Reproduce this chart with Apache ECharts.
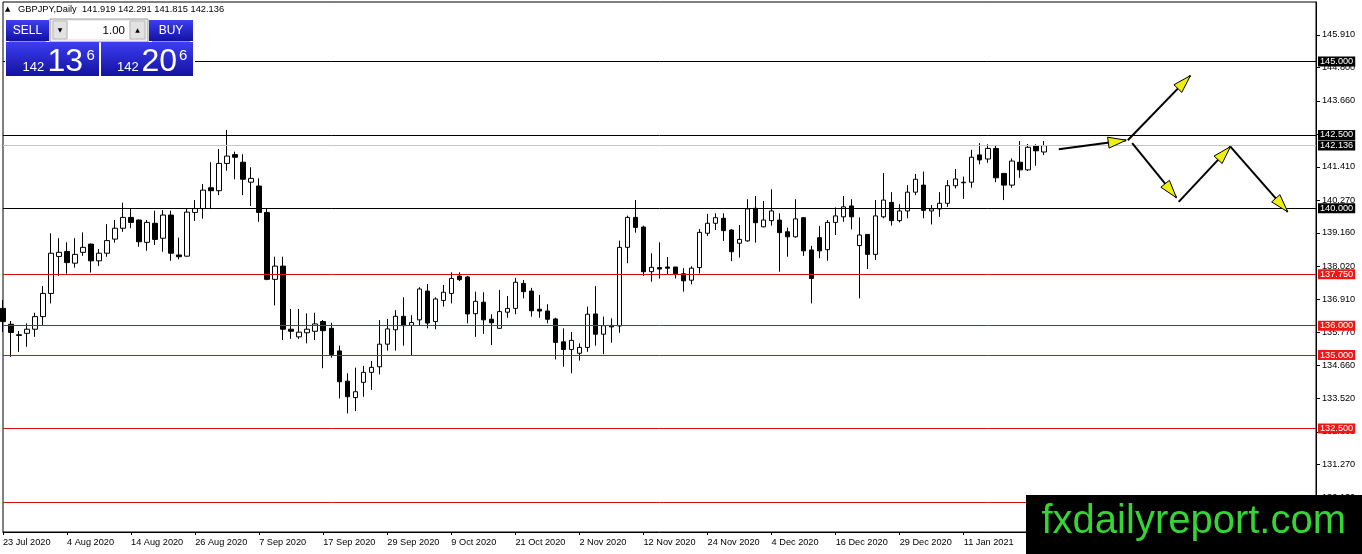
<!DOCTYPE html>
<html><head><meta charset="utf-8">
<script src="https://cdn.jsdelivr.net/npm/echarts@6/dist/echarts.min.js"></script>
<style>html,body{margin:0;padding:0;background:#fff}#c{width:1362px;height:554px}</style>
</head><body><div id="c"></div>
<script>
const dates = [
'23 Jul 2020','24 Jul 2020','27 Jul 2020','28 Jul 2020','29 Jul 2020','30 Jul 2020','31 Jul 2020',
'3 Aug 2020','4 Aug 2020','5 Aug 2020','6 Aug 2020','7 Aug 2020','10 Aug 2020','11 Aug 2020','12 Aug 2020','13 Aug 2020','14 Aug 2020','17 Aug 2020','18 Aug 2020','19 Aug 2020','20 Aug 2020','21 Aug 2020','24 Aug 2020','25 Aug 2020','26 Aug 2020','27 Aug 2020','28 Aug 2020','31 Aug 2020',
'1 Sep 2020','2 Sep 2020','3 Sep 2020','4 Sep 2020','7 Sep 2020','8 Sep 2020','9 Sep 2020','10 Sep 2020','11 Sep 2020','14 Sep 2020','15 Sep 2020','16 Sep 2020','17 Sep 2020','18 Sep 2020','21 Sep 2020','22 Sep 2020','23 Sep 2020','24 Sep 2020','25 Sep 2020','28 Sep 2020','29 Sep 2020','30 Sep 2020',
'1 Oct 2020','2 Oct 2020','5 Oct 2020','6 Oct 2020','7 Oct 2020','8 Oct 2020','9 Oct 2020','12 Oct 2020','13 Oct 2020','14 Oct 2020','15 Oct 2020','16 Oct 2020','19 Oct 2020','20 Oct 2020','21 Oct 2020','22 Oct 2020','23 Oct 2020','26 Oct 2020','27 Oct 2020','28 Oct 2020','29 Oct 2020','30 Oct 2020',
'2 Nov 2020','3 Nov 2020','4 Nov 2020','5 Nov 2020','6 Nov 2020','9 Nov 2020','10 Nov 2020','11 Nov 2020','12 Nov 2020','13 Nov 2020','16 Nov 2020','17 Nov 2020','18 Nov 2020','19 Nov 2020','20 Nov 2020','23 Nov 2020','24 Nov 2020','25 Nov 2020','26 Nov 2020','27 Nov 2020','30 Nov 2020',
'1 Dec 2020','2 Dec 2020','3 Dec 2020','4 Dec 2020','7 Dec 2020','8 Dec 2020','9 Dec 2020','10 Dec 2020','11 Dec 2020','14 Dec 2020','15 Dec 2020','16 Dec 2020','17 Dec 2020','18 Dec 2020','21 Dec 2020','22 Dec 2020','23 Dec 2020','24 Dec 2020','28 Dec 2020','29 Dec 2020','30 Dec 2020','31 Dec 2020',
'4 Jan 2021','5 Jan 2021','6 Jan 2021','7 Jan 2021','8 Jan 2021','11 Jan 2021','12 Jan 2021','13 Jan 2021','14 Jan 2021','15 Jan 2021','18 Jan 2021','19 Jan 2021','20 Jan 2021','21 Jan 2021','22 Jan 2021','25 Jan 2021'
];
const opens = [136.59,136.05,135.69,135.74,135.88,136.31,137.10,138.36,138.53,138.13,138.50,138.78,138.21,138.47,138.95,139.32,139.69,139.60,138.84,139.49,138.98,139.77,138.41,138.37,139.86,139.99,140.70,140.60,141.53,141.83,141.57,140.89,140.76,139.86,137.58,138.03,135.88,135.62,135.76,135.81,136.14,135.91,135.14,134.11,133.55,134.07,134.41,134.60,135.37,135.86,136.32,136.01,136.20,137.18,136.14,136.86,137.10,137.69,137.66,136.41,136.80,136.22,135.91,136.46,136.59,137.44,137.18,136.56,136.50,136.23,135.45,135.19,135.06,135.26,136.40,135.71,136.01,135.99,138.67,139.69,139.36,137.84,137.98,138.00,138.00,137.77,137.55,137.98,139.15,139.49,139.66,139.26,138.81,138.89,140.00,139.37,139.58,139.60,139.20,139.03,139.68,138.58,139.00,138.59,139.52,139.71,140.08,138.73,139.11,138.43,139.71,140.20,139.58,139.91,140.55,140.79,139.91,139.98,140.17,140.77,140.87,140.89,141.82,141.68,142.04,141.19,140.79,141.57,141.31,142.13,141.919];
const highs = [136.88,136.16,135.82,136.08,136.44,137.35,139.15,138.98,138.84,138.98,139.18,138.80,138.61,139.46,139.60,140.19,140.00,139.62,139.60,139.92,139.94,139.92,139.00,140.00,140.28,140.83,141.57,142.02,142.67,141.93,141.84,141.40,141.02,139.98,138.35,138.35,136.57,136.57,136.42,136.44,136.19,136.10,135.32,134.38,134.57,134.63,134.80,136.19,136.23,136.53,136.97,136.36,137.31,137.42,136.97,137.39,137.82,137.82,137.70,137.16,137.14,136.39,137.22,137.01,137.63,137.56,137.29,137.05,136.73,136.27,135.91,135.79,135.40,136.65,137.35,136.31,136.25,138.90,139.75,140.28,139.41,138.47,138.84,138.34,138.00,137.96,138.03,139.29,139.81,139.83,139.83,139.29,139.43,140.31,140.42,140.25,140.65,139.83,139.34,140.31,139.70,138.72,139.40,139.60,140.03,140.42,140.31,139.69,139.11,140.28,141.20,140.55,140.14,140.79,141.17,141.25,140.11,140.55,140.96,141.34,141.08,141.99,142.22,142.18,142.13,141.19,141.70,142.29,142.19,142.18,142.291];
const lows = [135.78,134.94,135.11,135.28,135.62,136.02,136.76,137.70,137.77,137.98,138.38,137.81,138.04,138.35,138.83,139.20,139.32,138.69,138.55,138.75,138.52,138.21,138.26,138.35,139.57,139.65,139.97,140.45,141.28,140.99,140.45,140.08,139.54,137.55,136.69,135.51,135.55,135.55,135.40,135.51,134.55,134.91,133.52,133.01,133.09,133.58,133.81,134.34,135.15,135.15,135.32,135.00,136.00,135.91,135.88,136.65,136.76,137.52,136.08,135.62,135.72,135.34,135.89,136.27,136.39,136.93,136.31,136.27,136.08,134.85,134.60,134.38,134.81,135.11,135.32,135.03,135.42,135.76,138.13,139.17,137.70,137.50,137.61,137.73,137.61,137.16,137.41,137.78,139.06,139.26,138.89,138.20,138.32,138.86,138.83,139.35,139.41,137.84,138.35,139.00,138.38,136.76,138.30,138.21,139.09,139.54,139.28,136.93,137.93,138.24,139.66,139.41,139.52,139.66,140.45,139.66,139.45,139.71,140.05,140.68,140.32,140.70,141.50,141.55,140.89,140.28,140.70,141.04,141.27,141.45,141.815];
const closes = [136.14,135.77,135.67,135.88,136.31,137.10,138.47,138.50,138.15,138.43,138.67,138.21,138.47,138.90,139.32,139.69,139.52,138.86,139.52,138.94,139.77,138.47,138.35,139.87,139.99,140.62,140.60,141.53,141.78,141.74,140.99,141.02,139.86,137.58,138.03,135.88,135.81,135.78,135.88,136.06,135.83,135.02,134.09,133.58,133.75,134.41,134.58,135.37,135.89,136.32,136.00,136.11,137.25,136.09,136.91,137.14,137.61,137.57,136.40,136.83,136.20,136.10,136.48,136.59,137.48,137.16,136.51,136.50,136.22,135.43,135.19,135.50,135.26,136.39,135.71,136.00,135.96,138.67,139.69,139.35,137.84,137.99,137.93,137.96,137.77,137.53,137.96,139.18,139.49,139.68,139.24,138.52,138.94,139.98,139.51,139.60,139.91,139.17,139.03,139.64,138.55,137.61,138.55,139.52,139.74,140.05,139.71,139.09,138.43,139.74,140.28,139.58,139.91,140.55,140.99,139.93,139.98,140.17,140.77,141.00,140.89,141.74,141.65,142.04,141.04,140.79,141.61,141.31,142.08,141.96,142.136];
const priceTicks = [145.91,144.80,143.66,142.52,141.41,140.27,139.16,138.02,136.91,135.77,134.66,133.52,132.38,131.27,130.13];
const levelsBlack = [145.0, 142.5, 140.0];
const levelsRed = [137.75, 136.0, 135.0, 132.5, 130.0];
const bidLevel = 142.136;
const arrowFrom = [[131.87,142.01],[140.49,142.32],[141.04,142.22],[146.85,140.22],[153.31,142.10]];
const arrowTo   = [[140.29,142.32],[148.31,144.52],[146.57,140.36],[153.31,142.10],[160.46,139.88]];
const headerText = 'GBPJPY,Daily  141.919 142.291 141.815 142.136';
const slotCount = 165;

const FONT = 'Liberation Sans';
const categories = dates.slice();
for (let i = dates.length; i < slotCount; i++) categories.push('pad' + i);
const candleData = dates.map((d, i) => [opens[i], closes[i], lows[i], highs[i]]);
const arrowData = arrowFrom.map((f, i) => [f[0], f[1], arrowTo[i][0], arrowTo[i][1]]);

const blueGrad = new echarts.graphic.LinearGradient(0, 0, 0, 1, [
  {offset: 0, color: '#3d3df2'}, {offset: 1, color: '#1212a0'}]);

function levelItem(v, lineColor, boxColor) {
  return {yAxis: v, lineStyle: {color: lineColor, width: 1, type: 'solid'},
    label: {backgroundColor: boxColor, formatter: v.toFixed(3)}};
}

const chart = echarts.init(document.getElementById('c'), null, {renderer: 'canvas'});
chart.setOption({
  animation: false,
  backgroundColor: '#fff',
  grid: {left: 2, top: 2, right: 46, bottom: 22, show: true, borderColor: '#000', borderWidth: 1, backgroundColor: '#fff'},
  xAxis: [{
    type: 'category', data: categories, boundaryGap: false,
    axisLine: {show: true, onZero: false, lineStyle: {color: '#000', width: 1}},
    axisTick: {show: true, length: 3, lineStyle: {color: '#000'},
      interval: (i) => i % 8 === 0 && i < dates.length},
    axisLabel: {show: true, interval: (i) => i % 8 === 0 && i < dates.length,
      align: 'left', margin: 6, color: '#000', fontSize: 9.2, fontFamily: FONT},
    splitLine: {show: false}
  }, {
    type: 'value', min: 0, max: slotCount - 1, show: false,
    axisLine: {onZero: false}
  }],
  yAxis: {
    type: 'value', position: 'right', min: 128.97, max: 147.03, scale: true,
    axisLine: {show: true, onZero: false, lineStyle: {color: '#000', width: 1}},
    axisTick: {show: true, length: 4, customValues: priceTicks, lineStyle: {color: '#000'}},
    axisLabel: {show: true, customValues: priceTicks, margin: 6, color: '#000', fontSize: 9.2,
      fontFamily: FONT, formatter: (v) => v.toFixed(3)},
    splitLine: {show: false}
  },
  series: [{
    type: 'candlestick', xAxisIndex: 0, data: candleData, barWidth: 5, clip: true,
    itemStyle: {color: '#fff', color0: '#000', borderColor: '#000', borderColor0: '#000', borderWidth: 1},
    markLine: {
      symbol: 'none', silent: true, animation: false,
      label: {show: true, position: 'end', distance: 2, color: '#fff', fontSize: 9.2, fontFamily: FONT,
        padding: [1, 2, 0, 2]},
      data: [
        ...levelsBlack.map(v => levelItem(v, '#000', '#000')),
        levelItem(bidLevel, '#c4c4c4', '#000'),
        ...levelsRed.map(v => levelItem(v, '#d41010', '#f01616'))
      ]
    }
  }, {
    type: 'custom', xAxisIndex: 1, yAxisIndex: 0, data: arrowData, z: 5,
    encode: {x: [0, 2], y: [1, 3]},
    renderItem: function (params, api) {
      const p1 = api.coord([api.value(0), api.value(1)]);
      const p2 = api.coord([api.value(2), api.value(3)]);
      const dx = p2[0] - p1[0], dy = p2[1] - p1[1];
      const len = Math.hypot(dx, dy) || 1;
      const ux = dx / len, uy = dy / len, nx = -uy, ny = ux;
      const L = 18, W = 5.5;
      const bx = p2[0] - ux * L, by = p2[1] - uy * L;
      return {type: 'group', children: [
        {type: 'line', shape: {x1: p1[0], y1: p1[1], x2: p2[0], y2: p2[1]}, style: {stroke: '#000', lineWidth: 2}},
        {type: 'polygon', shape: {points: [[p2[0], p2[1]], [bx + nx * W, by + ny * W], [bx - nx * W, by - ny * W]]},
          style: {fill: '#eeee10', stroke: '#000', lineWidth: 1}}
      ]};
    }
  }],
  graphic: [
    {type: 'text', z: 100, left: 5, top: 6, style: {text: '▲', fontSize: 7, fontFamily: 'DejaVu Sans', fill: '#000'}},
    {type: 'text', z: 100, left: 18, top: 5, style: {text: headerText, fontSize: 9.3, fontFamily: FONT, fill: '#000'}},
    {type: 'rect', z: 99, shape: {x: 5, y: 18, width: 190, height: 60}, style: {fill: '#fff'}},
    {type: 'rect', z: 100, shape: {x: 6, y: 20, width: 43, height: 21}, style: {fill: blueGrad}},
    {type: 'text', z: 101, x: 27.5, y: 31, style: {text: 'SELL', fontSize: 12, fontFamily: FONT, fill: '#fff', align: 'center', verticalAlign: 'middle'}},
    {type: 'rect', z: 100, shape: {x: 50, y: 19, width: 98, height: 23}, style: {fill: '#ececec', stroke: '#9a9a9a', lineWidth: 1}},
    {type: 'rect', z: 101, shape: {x: 53, y: 21, width: 14, height: 18}, style: {fill: '#e2e2e2', stroke: '#b8b8b8', lineWidth: 1}},
    {type: 'text', z: 102, x: 60, y: 30, style: {text: '▼', fontSize: 6, fontFamily: 'DejaVu Sans', fill: '#000', align: 'center', verticalAlign: 'middle'}},
    {type: 'rect', z: 101, shape: {x: 68, y: 21, width: 61, height: 18}, style: {fill: '#fff'}},
    {type: 'text', z: 102, x: 125, y: 30.5, style: {text: '1.00', fontSize: 11.5, fontFamily: FONT, fill: '#000', align: 'right', verticalAlign: 'middle'}},
    {type: 'rect', z: 101, shape: {x: 130, y: 21, width: 15, height: 18}, style: {fill: '#e2e2e2', stroke: '#b8b8b8', lineWidth: 1}},
    {type: 'text', z: 102, x: 137.5, y: 30, style: {text: '▲', fontSize: 6, fontFamily: 'DejaVu Sans', fill: '#000', align: 'center', verticalAlign: 'middle'}},
    {type: 'rect', z: 100, shape: {x: 149, y: 20, width: 44, height: 21}, style: {fill: blueGrad}},
    {type: 'text', z: 101, x: 171, y: 31, style: {text: 'BUY', fontSize: 12, fontFamily: FONT, fill: '#fff', align: 'center', verticalAlign: 'middle'}},
    {type: 'rect', z: 100, shape: {x: 6, y: 42, width: 93, height: 34}, style: {fill: blueGrad}},
    {type: 'rect', z: 100, shape: {x: 101, y: 42, width: 92, height: 34}, style: {fill: blueGrad}},
    {type: 'line', z: 101, shape: {x1: 9, y1: 41.5, x2: 46, y2: 41.5}, style: {stroke: '#8c8cff', lineWidth: 1}},
    {type: 'line', z: 101, shape: {x1: 152, y1: 41.5, x2: 190, y2: 41.5}, style: {stroke: '#8c8cff', lineWidth: 1}},
    {type: 'text', z: 101, x: 22.5, y: 67.5, style: {text: '142', fontSize: 13, fontFamily: FONT, fill: '#fff', verticalAlign: 'middle'}},
    {type: 'text', z: 101, x: 47.5, y: 62, style: {text: '13', fontSize: 32, fontFamily: FONT, fill: '#fff', verticalAlign: 'middle'}},
    {type: 'text', z: 101, x: 86.5, y: 56, style: {text: '6', fontSize: 15, fontFamily: FONT, fill: '#fff', verticalAlign: 'middle'}},
    {type: 'text', z: 101, x: 117, y: 67.5, style: {text: '142', fontSize: 13, fontFamily: FONT, fill: '#fff', verticalAlign: 'middle'}},
    {type: 'text', z: 101, x: 141.5, y: 62, style: {text: '20', fontSize: 32, fontFamily: FONT, fill: '#fff', verticalAlign: 'middle'}},
    {type: 'text', z: 101, x: 179, y: 56, style: {text: '6', fontSize: 15, fontFamily: FONT, fill: '#fff', verticalAlign: 'middle'}},
    {type: 'rect', z: 100, shape: {x: 1026, y: 495, width: 336, height: 59}, style: {fill: '#000'}},
    {type: 'text', z: 101, x: 1041.5, y: 522, style: {text: 'fxdailyreport.com', fontSize: 40, fontFamily: FONT, fill: '#36d436', verticalAlign: 'middle'}}
  ]
});
</script></body></html>
